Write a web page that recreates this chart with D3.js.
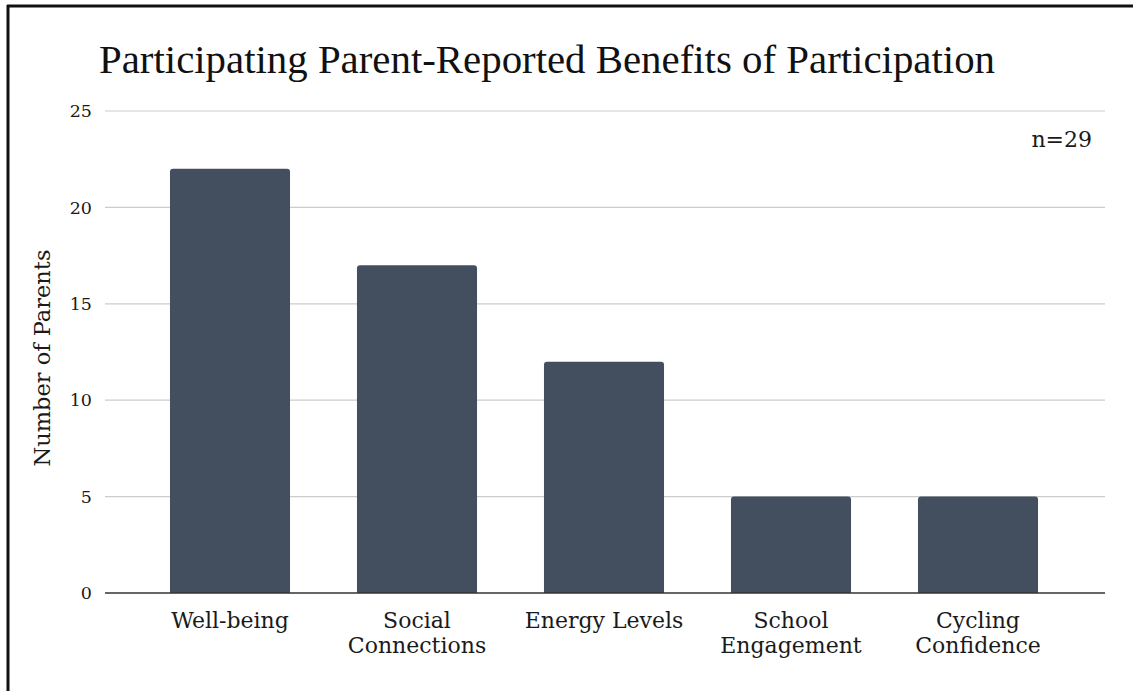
<!DOCTYPE html>
<html><head><meta charset="utf-8">
<script src="https://cdn.jsdelivr.net/npm/d3@7"></script>
<style>body{margin:0;background:#fff}</style>
</head><body>
<svg id="c" width="1133" height="691"></svg>
<script>
const categories = [["Well-being"],["Social","Connections"],["Energy Levels"],["School","Engagement"],["Cycling","Confidence"]];
const values = [22,17,12,5,5];
const yTicks = [0,5,10,15,20,25];
const title = "Participating Parent-Reported Benefits of Participation";
const yTitle = "Number of Parents";
const note = "n=29";

const svg = d3.select("#c");
const font = "'DejaVu Serif', serif";
svg.append("rect").attr("width",1133).attr("height",691).attr("fill","#fff");
// frame
svg.append("line").attr("x1",8).attr("x2",8).attr("y1",5).attr("y2",691).attr("stroke","#111").attr("stroke-width",3);
svg.append("line").attr("x1",7).attr("x2",1133).attr("y1",6).attr("y2",6).attr("stroke","#111").attr("stroke-width",3);

const y = d3.scaleLinear().domain([0,25]).range([593,111]);
const keys = categories.map(d=>d.join(" "));
const x = d3.scaleBand().domain(keys).range([136.5,1071.5]).paddingInner(0.358).paddingOuter(0.179);

const gx0 = 105, gx1 = 1105;
const grid = svg.append("g");
grid.selectAll("line").data(yTicks.filter(t=>t>0)).join("line")
  .attr("x1",gx0).attr("x2",gx1).attr("y1",d=>y(d)).attr("y2",d=>y(d))
  .attr("stroke","#cccccc").attr("stroke-width",1.2);

const yAxis = svg.append("g").attr("transform",`translate(${gx0},0)`)
  .call(d3.axisLeft(y).tickValues(yTicks).tickSize(0).tickPadding(13));
yAxis.select(".domain").remove();
yAxis.selectAll("text").attr("font-family",font).attr("font-size",17.5).attr("fill","#1a1a1a");

const r = 3;
svg.append("g").selectAll("path").data(values).join("path")
  .attr("fill","#434f5f")
  .attr("d",(d,i)=>{
    const x0 = x(keys[i]), w = x.bandwidth(), y0 = y(d), y1 = y(0);
    return `M${x0},${y1}V${y0+r}Q${x0},${y0} ${x0+r},${y0}H${x0+w-r}Q${x0+w},${y0} ${x0+w},${y0+r}V${y1}Z`;
  });

svg.append("line").attr("x1",gx0).attr("x2",gx1).attr("y1",y(0)).attr("y2",y(0))
  .attr("stroke","#333").attr("stroke-width",1.6);

const xl = svg.append("g").selectAll("text").data(categories).join("text")
  .attr("x",(d,i)=>x(keys[i])+x.bandwidth()/2).attr("y",628)
  .attr("text-anchor","middle").attr("font-family",font).attr("font-size",22).attr("fill","#1a1a1a");
xl.each(function(d){
  const t = d3.select(this);
  d.forEach((s,j)=>t.append("tspan").attr("x",t.attr("x")).attr("dy",j?25:0).text(s));
});

svg.append("text").attr("x",99).attr("y",73).attr("font-family","'Liberation Serif', serif").attr("font-size",40)
  .attr("textLength",896).attr("lengthAdjust","spacingAndGlyphs").attr("fill","#111").text(title);
svg.append("text").attr("transform","translate(50,358) rotate(-90)").attr("text-anchor","middle")
  .attr("font-family",font).attr("font-size",22.5).attr("fill","#1a1a1a").text(yTitle);
svg.append("text").attr("x",1092).attr("y",147).attr("text-anchor","end")
  .attr("font-family",font).attr("font-size",22).attr("fill","#1a1a1a").text(note);
</script>
</body></html>
